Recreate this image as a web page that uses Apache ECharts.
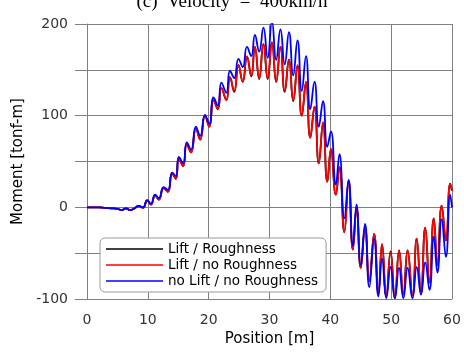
<!DOCTYPE html>
<html>
<head>
<meta charset="utf-8">
<script src="https://cdn.jsdelivr.net/npm/echarts@6/dist/echarts.min.js"></script>
<style>
html,body{margin:0;padding:0;background:#fff;}
#c{width:464px;height:352px;}
</style>
</head>
<body>
<div id="c"></div>
<script>
const titleText = '(c)  Velocity  =  400km/h';
const xName = 'Position [m]';
const yName = 'Moment [tonf-m]';
const seriesNames = ['Lift / Roughness', 'Lift / no Roughness', 'no Lift / no Roughness'];
const seriesColors = ['#000000', '#ff0000', '#0000ff'];
const yTickLabels = [-100, 0, 100, 200];

const position = [0,1,2,3,4,5,5.7,6.4,7.1,7.8,8.5,9.2,9.9,10.5,11.2,11.8,12.6,13.3,14.0,14.6,15.1,15.8,16.4,17.1,17.9,18.6,19.4,20.1,20.8,21.5,22.1,22.9,23.5,24.2,24.9,25.6,26.3,27.0,27.6,28.3,29.0,29.7,30.4,31.1,31.8,32.5,33.2,33.9,34.6,35.3,36.0,36.7,37.4,38.1,38.8,39.5,40.1,40.9,41.5,42.3,43.0,43.7,44.3,45.0,45.7,46.4,47.2,47.9,48.5,49.2,49.9,50.6,51.3,52.0,52.7,53.5,54.2,54.9,55.6,56.3,57.0,57.6,58.3,59.0,59.7,60.0];

const liftRough = [0,0,0,-0.5,-1,-1.5,
  -3,-1,-3,-1,1.5,-0.5,7.5,
  3,13,8.5,21,17,37,31,
  53,45,69,60,86,74,
  100,88,117,107,130,117,
  142,126,155,137,164,143,
  175,140,178,140,180,137,
  175,126,161,116,154,100,
  136,76,110,48,92,28,
  63,14,44,-27,29,-46,
  -1,-66,-22,-80,-29,-94,
  -40,-97,-48,-99,-47,-95,
  -47,-96,-34,-94,-22,-82,
  -12,-63,2,-36,26,18];

const liftNoRough = [0,0,0,-0.5,-1,-1.5,
  -3,-1,-3,-1,1.5,-0.5,7.5,
  3,13,8.5,21,17,37,31,
  53,45,69,60,86,74,
  100,88,117,108,130,117,
  142,127,155,137,165,144,
  175,141,178,141,180,137,
  175,127,161,117,155,100,
  137,76,110,48,93,28,
  64,14,44,-27,29,-46,
  -1,-66,-22,-80,-29,-94,
  -40,-97,-49,-99,-47,-95,
  -47,-96,-34,-94,-22,-82,
  -12,-63,2,-36,26,18];

const noLiftNoRough = [0,0,0,-0.5,-1,-1.5,
  -3,-1,-3,-1,1.5,0,8,
  4,14,10,22,19,38,34,
  55,48,71,63,88,78,
  101,91,120,111,136,125,
  149,141,162,153,175,165,
  188,170,196,163,203,161,
  194,156,191,144,182,127,
  165,107,137,88,116,66,
  83,25,58,-12,30,-42,
  3,-63,-18,-87,-34,-97,
  -56,-99,-65,-99,-66,-99,
  -66,-99,-65,-95,-60,-90,
  -32,-71,-13,-54,14,0];

const allValues = [liftRough, liftNoRough, noLiftNoRough];

const gridColor = '#808080';
const chart = echarts.init(document.getElementById('c'), null, {renderer: 'canvas'});
chart.setOption({
  animation: false,
  backgroundColor: '#ffffff',
  title: {
    text: titleText,
    left: 'center',
    top: -12,
    textStyle: {fontFamily: 'Liberation Serif', fontSize: 19, fontWeight: 'normal', color: '#000'}
  },
  grid: {left: 87, right: 12, top: 24, bottom: 36, containLabel: false},
  legend: {
    orient: 'vertical',
    left: 100,
    top: 238,
    icon: 'rect',
    itemWidth: 57,
    itemHeight: 1.5,
    itemGap: 0,
    padding: [3, 8, 3, 6],
    borderColor: '#999',
    borderWidth: 1,
    borderRadius: 5,
    backgroundColor: '#fff',
    textStyle: {fontFamily: 'DejaVu Sans', fontSize: 13.5, color: '#000', lineHeight: 16},
    data: seriesNames
  },
  xAxis: {
    type: 'value',
    min: 0, max: 60, interval: 10,
    name: xName,
    nameLocation: 'middle',
    nameGap: 31,
    nameTextStyle: {fontFamily: 'DejaVu Sans', fontSize: 15, color: '#000'},
    axisLine: {show: true, lineStyle: {color: gridColor}},
    axisTick: {show: true, length: 11, lineStyle: {color: gridColor}},
    axisLabel: {margin: 14, fontFamily: 'DejaVu Sans', fontSize: 14, color: '#333'},
    splitLine: {show: true, lineStyle: {color: gridColor, width: 1}}
  },
  yAxis: {
    type: 'value',
    min: -100, max: 200, interval: 50,
    name: yName,
    nameLocation: 'middle',
    nameGap: 60,
    nameRotate: 90,
    nameTextStyle: {fontFamily: 'DejaVu Sans', fontSize: 15, color: '#000'},
    axisLine: {show: true, lineStyle: {color: gridColor}},
    axisTick: {show: true, length: 12, lineStyle: {color: gridColor}},
    axisLabel: {
      margin: 19, fontFamily: 'DejaVu Sans', fontSize: 14, color: '#333',
      formatter: v => (yTickLabels.indexOf(v) >= 0 ? String(v) : '')
    },
    splitLine: {show: true, lineStyle: {color: gridColor, width: 1}}
  },
  series: seriesNames.map((name, i) => ({
    name: name,
    type: 'line',
    symbol: 'none',
    smooth: 0.5,
    color: seriesColors[i],
    lineStyle: {color: seriesColors[i], width: 1.8},
    data: position.map((x, k) => [x, allValues[i][k]])
  }))
});
</script>
</body>
</html>
